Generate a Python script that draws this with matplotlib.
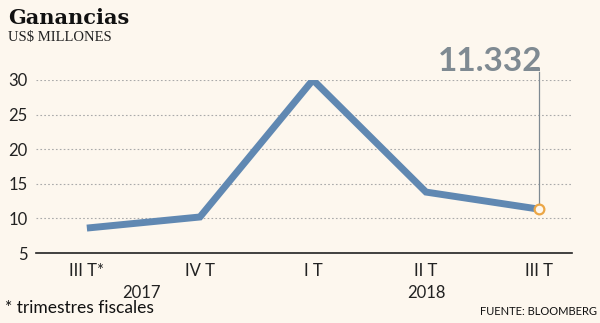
import matplotlib.pyplot as plt

# Ganancias trimestrales, US$ millones
trimestres = ['III T*', 'IV T', 'I T', 'II T', 'III T']
ganancias = [8.6, 10.2, 30.0, 13.8, 11.332]
anios = ['2017', '2018']
anio_pos = [0.48, 3.0]

fondo = '#fdf7ee'
azul = '#6088b2'
gris = '#7f8a92'
fuente = 'Lato'

fig = plt.figure(figsize=(6, 3.23), dpi=100, facecolor=fondo)
ax = fig.add_axes([0.06, 0.2167, 0.893, 0.536])
ax.set_facecolor(fondo)

x = range(len(trimestres))
ax.plot(x, ganancias, color=azul, lw=5, solid_capstyle='butt', solid_joinstyle='miter', zorder=3)

# último dato resaltado
ult = len(ganancias) - 1
ax.plot([ult, ult], [ganancias[ult], 31.15], color=gris, lw=0.9, zorder=2, clip_on=False)
ax.plot(ult, ganancias[ult], 'o', ms=7, mfc=fondo, mec='#eba646', mew=1.6, zorder=4)
ax.text(ult + 0.03, 31.35, f'{ganancias[ult]:.3f}', ha='right', va='baseline',
        fontsize=24, fontweight='bold', color=gris, family=fuente)

ax.set_xlim(-0.45, 4.29)
ax.set_ylim(5, 30)
ax.set_yticks([5, 10, 15, 20, 25, 30])
ax.set_xticks(list(x))
ax.set_xticklabels(trimestres)
for s in ['top', 'right', 'left']:
    ax.spines[s].set_visible(False)
ax.spines['bottom'].set_linewidth(1.2)
ax.spines['bottom'].set_color('#222222')
ax.tick_params(axis='both', length=0, labelsize=12, colors='#222222')
ax.tick_params(axis='x', pad=7)
ax.tick_params(axis='y', pad=6)
for lab in ax.get_xticklabels() + ax.get_yticklabels():
    lab.set_family(fuente)
ax.yaxis.grid(True, ls=(0, (1.5, 2)), color='#aaaaaa', lw=0.8)
ax.set_axisbelow(True)

for a, p in zip(anios, anio_pos):
    ax.text(p, -0.23, a, transform=ax.get_xaxis_transform(), ha='center', va='center',
            fontsize=12, color='#222222', family=fuente)

fig.text(0.013, 0.945, 'Ganancias', fontsize=15, fontweight='bold', family='DejaVu Serif',
         color='#111111', va='center')
fig.text(0.013, 0.885, 'US$ MILLONES', fontsize=10.5, family='Liberation Serif',
         color='#222222', va='center')
fig.text(0.008, 0.045, '* trimestres fiscales', fontsize=12.5, family=fuente,
         color='#111111', va='center')
fig.text(0.995, 0.035, 'FUENTE: BLOOMBERG', fontsize=8, family=fuente,
         color='#111111', va='center', ha='right')

fig.savefig('out.png', dpi=100, facecolor=fondo)
